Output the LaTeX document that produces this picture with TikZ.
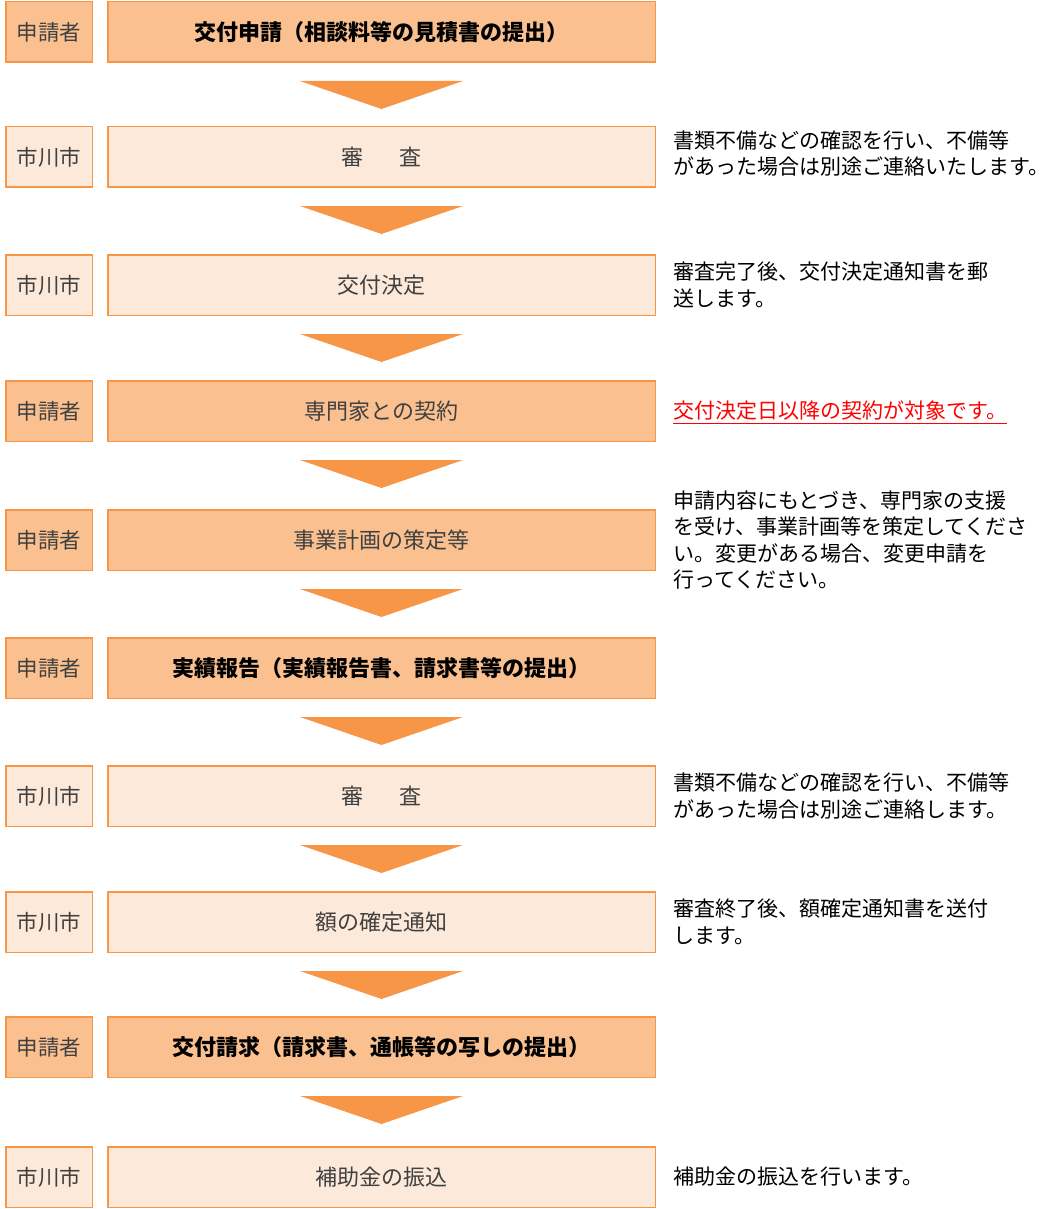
\documentclass[tikz,border=0pt]{standalone}
\usepackage{fontspec}
\setmainfont{Noto Sans CJK JP}
\usetikzlibrary{positioning,calc}
\definecolor{accent}{HTML}{F79646}
\definecolor{darkfill}{HTML}{FAC090}
\definecolor{lightfill}{HTML}{FDE9D9}
\tikzstyle{actor}=[draw=accent,line width=1.5pt,minimum width=86.5pt,minimum height=60.5pt,inner sep=0pt,text=black!75,font=\fontsize{21.5}{26}\selectfont]
\tikzstyle{stage}=[draw=accent,line width=1.5pt,minimum width=547.5pt,minimum height=60.5pt,inner sep=0pt,text=black!75,font=\fontsize{22}{26}\selectfont]
\tikzstyle{applicant}=[fill=darkfill]
\tikzstyle{city}=[fill=lightfill]
\tikzstyle{heavy}=[font=\fontsize{22}{26}\selectfont\bfseries,text=black]
\tikzstyle{note}=[anchor=west,align=left,inner sep=0pt,font=\fontsize{21}{26.5}\selectfont]
\tikzstyle{downarrow}=[fill=accent]

\begin{document}
\begin{tikzpicture}
\useasboundingbox (0,0) rectangle (1059pt,-1209pt);
% who does what
\node [actor,applicant] (a1) at (49pt,-32pt) {申請者};
\node [actor,city] (a2) at (49pt,-157pt) {市川市};
\node [actor,city] (a3) at (49pt,-285pt) {市川市};
\node [actor,applicant] (a4) at (49pt,-411pt) {申請者};
\node [actor,applicant] (a5) at (49pt,-540pt) {申請者};
\node [actor,applicant] (a6) at (49pt,-668pt) {申請者};
\node [actor,city] (a7) at (49pt,-796pt) {市川市};
\node [actor,city] (a8) at (49pt,-922pt) {市川市};
\node [actor,applicant] (a9) at (49pt,-1047pt) {申請者};
\node [actor,city] (a10) at (49pt,-1177pt) {市川市};
% steps
\node [stage,applicant,heavy,right=14pt of a1] (m1) {交付申請（相談料等の見積書の提出）};
\node [stage,city,right=14pt of a2] (m2) {審\hspace{1.6em}査};
\node [stage,city,right=14pt of a3] (m3) {交付決定};
\node [stage,applicant,right=14pt of a4] (m4) {専門家との契約};
\node [stage,applicant,right=14pt of a5] (m5) {事業計画の策定等};
\node [stage,applicant,heavy,right=14pt of a6] (m6) {実績報告（実績報告書、請求書等の提出）};
\node [stage,city,right=14pt of a7] (m7) {審\hspace{1.6em}査};
\node [stage,city,right=14pt of a8] (m8) {額の確定通知};
\node [stage,applicant,heavy,right=14pt of a9] (m9) {交付請求（請求書、通帳等の写しの提出）};
\node [stage,city,right=14pt of a10] (m10) {補助金の振込};
% notes
\node [note,right=17pt of m2,yshift=3.5pt] (n2) {書類不備などの確認を行い、不備等\\があった場合は別途ご連絡いたします。};
\node [note,right=17pt of m3] (n3) {審査完了後、交付決定通知書を郵\\送します。};
\node [note,right=17pt of m4,text=red] (n4) {交付決定日以降の契約が対象です。};
\draw [red,line width=1pt] ([yshift=-5pt]n4.base west) -- ([yshift=-5pt]n4.base east);
\node [note,right=17pt of m5] (n5) {申請内容にもとづき、専門家の支援\\を受け、事業計画等を策定してくださ\\い。変更がある場合、変更申請を\\行ってください。};
\node [note,right=17pt of m7] (n7) {書類不備などの確認を行い、不備等\\があった場合は別途ご連絡します。};
\node [note,right=17pt of m8] (n8) {審査終了後、額確定通知書を送付\\します。};
\node [note,right=17pt of m10] (n10) {補助金の振込を行います。};
% arrows between steps
\foreach \i in {1,...,9}
    \fill [downarrow] ($(m\i.south)+(-81.5pt,-18pt)$) -- ($(m\i.south)+(81.5pt,-18pt)$) -- ($(m\i.south)+(0,-46pt)$) -- cycle;
\end{tikzpicture}
\end{document}
